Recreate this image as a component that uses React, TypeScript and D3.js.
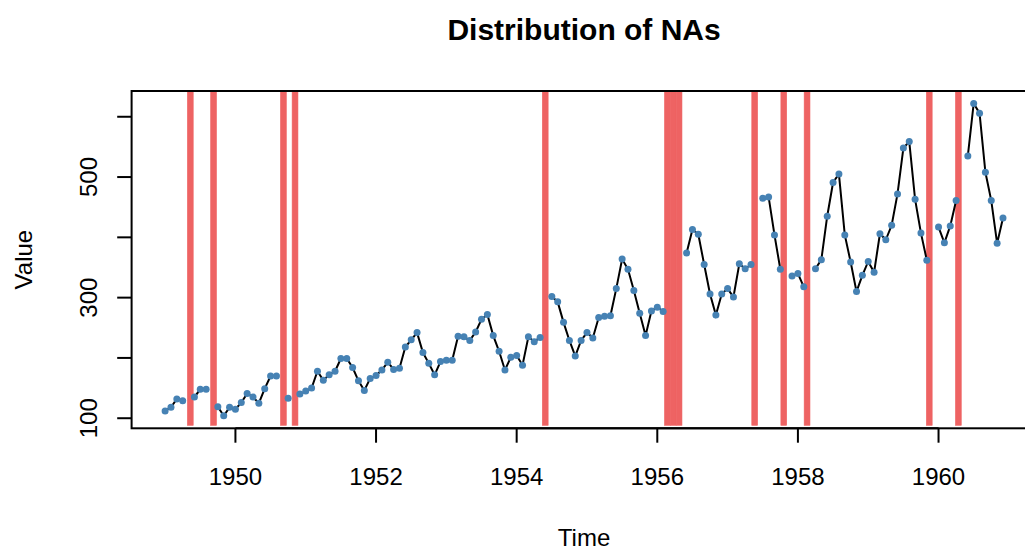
import React from 'react';
import * as d3 from 'd3';

// Monthly values, NA months are null
const years = [1949, 1950, 1951, 1952, 1953, 1954, 1955, 1956, 1957, 1958, 1959, 1960];
const v1949 = [112, 118, 132, 129, null, 135, 148, 148, null, 119, 104, 118];
const v1950 = [115, 126, 141, 135, 125, 149, 170, 170, null, 133, null, 140];
const v1951 = [145, 150, 178, 163, 172, 178, 199, 199, 184, 162, 146, 166];
const v1952 = [171, 180, 193, 181, 183, 218, 230, 242, 209, 191, 172, 194];
const v1953 = [196, 196, 236, 235, 229, 243, 264, 272, 237, 211, 180, 201];
const v1954 = [204, 188, 235, 227, 234, null, 302, 293, 259, 229, 203, 229];
const v1955 = [242, 233, 267, 269, 270, 315, 364, 347, 312, 274, 237, 278];
const v1956 = [284, 277, null, null, null, 374, 413, 405, 355, 306, 271, 306];
const v1957 = [315, 301, 356, 348, 355, null, 465, 467, 404, 347, null, 336];
const v1958 = [340, 318, null, 348, 363, 435, 491, 505, 404, 359, 310, 337];
const v1959 = [360, 342, 406, 396, 420, 472, 548, 559, 463, 407, 362, null];
const v1960 = [417, 391, 419, 461, null, 535, 622, 606, 508, 461, 390, 432];

const xTicks = [1950, 1952, 1954, 1956, 1958, 1960];
const yTicks = [100, 200, 300, 400, 500, 600];
const yTickLabels = ['100', '', '300', '', '500', ''];

const W = 1025;
const H = 550;
const FONT = '"Liberation Sans", Arial, Helvetica, sans-serif';
const NA_COLOR = '#EE6363';
const POINT_COLOR = '#4682B4';

type Pt = { i: number; t: number; value: number | null };

export default function App() {
  const monthly = [v1949, v1950, v1951, v1952, v1953, v1954, v1955, v1956, v1957, v1958, v1959, v1960];
  const data: Pt[] = [];
  monthly.forEach((vals, yi) => {
    vals.forEach((v, m) => {
      data.push({ i: data.length, t: years[yi] + m / 12, value: v as number | null });
    });
  });

  const plot = { left: 131.6, right: 1036.5, top: 91, bottom: 428.3 };

  // R-style 4% axis extension
  const tExt = d3.extent(data, d => d.t) as [number, number];
  const tPad = (tExt[1] - tExt[0]) * 0.04;
  const valid = data.filter(d => d.value != null);
  const vExt = d3.extent(valid, d => d.value as number) as [number, number];
  const vPad = (vExt[1] - vExt[0]) * 0.04;

  const x = d3.scaleLinear().domain([tExt[0] - tPad, tExt[1] + tPad]).range([plot.left, plot.right]);
  const y = d3.scaleLinear().domain([vExt[0] - vPad, vExt[1] + vPad]).range([plot.bottom, plot.top]);

  // NA bars, barplot-style over the observation span
  const band = d3.scaleBand<number>()
    .domain(data.map(d => d.i))
    .range([x(tExt[0]) - 1, x(tExt[1]) - 1])
    .padding(0);

  const line = d3.line<Pt>()
    .defined(d => d.value != null)
    .x(d => x(d.t))
    .y(d => y(d.value as number));

  const missing = data.filter(d => d.value == null);
  const tick = 14.4;
  const midX = (plot.left + plot.right) / 2;
  const midY = (plot.top + plot.bottom) / 2;

  return (
    <svg width={W} height={H} style={{ position: 'absolute', left: 0, top: 0, background: '#fff' }}
      fontFamily={FONT}>
      <defs>
        <clipPath id="plotClip">
          <rect x={plot.left} y={plot.top} width={plot.right - plot.left} height={plot.bottom - plot.top} />
        </clipPath>
      </defs>

      <text x={midX} y={40} textAnchor="middle" fontSize={30} fontWeight="bold">Distribution of NAs</text>

      <g clipPath="url(#plotClip)">
        {missing.map(d => (
          <rect key={d.i} x={band(d.i)} y={plot.top} width={band.bandwidth()}
            height={plot.bottom - 3 - plot.top} fill={NA_COLOR} stroke={NA_COLOR} strokeWidth={0.6} />
        ))}
        <path d={line(data) || ''} fill="none" stroke="#000" strokeWidth={2} />
        {valid.map(d => (
          <circle key={d.i} cx={x(d.t)} cy={y(d.value as number)} r={3.5} fill={POINT_COLOR} />
        ))}
      </g>

      <rect x={plot.left} y={plot.top} width={plot.right - plot.left} height={plot.bottom - plot.top}
        fill="none" stroke="#000" strokeWidth={2} />

      {/* x axis */}
      <line x1={x(xTicks[0])} x2={x(xTicks[xTicks.length - 1])} y1={plot.bottom} y2={plot.bottom} stroke="#000" strokeWidth={2} />
      {xTicks.map(t => (
        <g key={t}>
          <line x1={x(t)} x2={x(t)} y1={plot.bottom} y2={plot.bottom + tick} stroke="#000" strokeWidth={2} />
          <text x={x(t)} y={485} textAnchor="middle" fontSize={24}>{t}</text>
        </g>
      ))}

      {/* y axis */}
      {yTicks.map((v, k) => (
        <g key={v}>
          <line x1={plot.left - tick} x2={plot.left} y1={y(v)} y2={y(v)} stroke="#000" strokeWidth={2} />
          {yTickLabels[k] && (
            <text transform={`translate(97,${y(v)}) rotate(-90)`} textAnchor="middle" fontSize={24}>
              {yTickLabels[k]}
            </text>
          )}
        </g>
      ))}

      <text x={midX} y={546} textAnchor="middle" fontSize={24}>Time</text>
      <text transform={`translate(32,${midY}) rotate(-90)`} textAnchor="middle" fontSize={24}>Value</text>
    </svg>
  );
}
